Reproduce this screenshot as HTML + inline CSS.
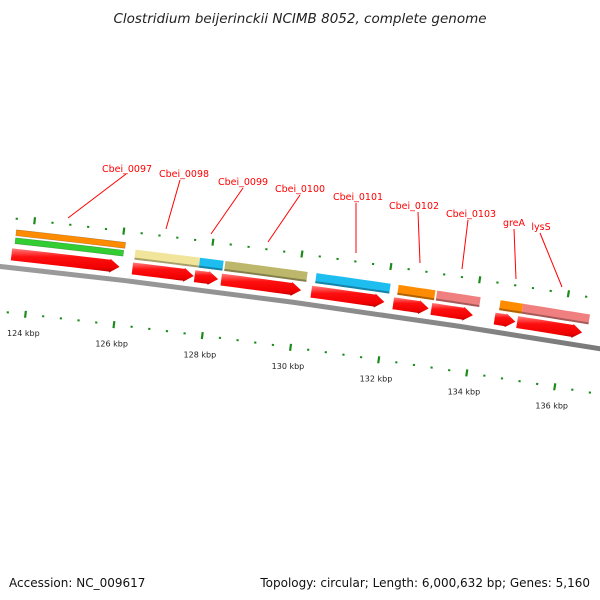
<!DOCTYPE html>
<html><head><meta charset="utf-8"><style>
body{margin:0;background:#fff;}
svg{display:block;font-family:"DejaVu Sans","Liberation Sans",sans-serif;}
</style></head><body>
<svg id="chart" width="600" height="600" viewBox="0 0 600 600">
<defs>
<linearGradient id="gRed" x1="0" y1="0" x2="0" y2="1"><stop offset="0" stop-color="#ff8080"/><stop offset="0.35" stop-color="#ff1010"/><stop offset="0.8" stop-color="#f00000"/><stop offset="1" stop-color="#b00000"/></linearGradient>
<linearGradient id="gBack" x1="0" y1="0" x2="0" y2="1"><stop offset="0" stop-color="#aaaaaa"/><stop offset="0.5" stop-color="#888"/><stop offset="1" stop-color="#555"/></linearGradient>
</defs>
<text x="300" y="23" text-anchor="middle" font-size="13.5" font-style="italic" fill="#222">Clostridium beijerinckii NCIMB 8052, complete genome</text>
<g id="plot"></g>
<text x="9" y="587" font-size="12" fill="#111">Accession: NC_009617</text>
<text x="590" y="587" font-size="12" fill="#111" text-anchor="end">Topology: circular; Length: 6,000,632 bp; Genes: 5,160</text>
</svg>
<script>
const tickLabels = [124,126,128,130,132,134,136];
const cdsStarts = [123.62,126.34,127.74,128.34,130.37,132.22,133.08,134.51,135.02];
const cdsEnds   = [126.05,127.72,128.27,130.14,132.02,133.02,134.02,134.98,136.49];
const geneStarts = [126.36,127.81,128.38,130.43,132.28,133.15,134.58,135.09];
const geneEnds   = [127.81,128.34,130.23,132.10,133.11,134.13,135.09,136.60];
const geneColors = ["#f0e59a","#1ebdf0","#bdb76b","#1ebdf0","#ff8c00","#f08080","#ff8c00","#f08080"];
const otherStarts = [123.67,123.67];
const otherEnds = [126.12,126.10];
const otherColors = ["#ff8c00","#32cd32"];
const labelNames = ["Cbei_0097","Cbei_0098","Cbei_0099","Cbei_0100","Cbei_0101","Cbei_0102","Cbei_0103","greA","lysS"];

const NS="http://www.w3.org/2000/svg";
const plot=document.getElementById('plot');
const CX=-1196, CY=11201, R=11000, A=0.004064, PHI0=0.1364, K0=130.15;
function P(k,r){const f=PHI0+(k-K0)*A;const rr=R+r;return [CX+rr*Math.sin(f), CY-rr*Math.cos(f)];}
function poly(pts){return pts.map(p=>p[0].toFixed(2)+','+p[1].toFixed(2)).join(' ');}
function band(k1,k2,r1,r2){const pts=[];const n=8;for(let i=0;i<=n;i++)pts.push(P(k1+(k2-k1)*i/n,r2));for(let i=n;i>=0;i--)pts.push(P(k1+(k2-k1)*i/n,r1));return pts;}
function mk(tag,attrs){const e=document.createElementNS(NS,tag);for(const a in attrs)e.setAttribute(a,attrs[a]);plot.appendChild(e);return e;}

{const e=mk('polygon',{points:poly(band(115,145,-2.5,2.5)),fill:'url(#gBack)'});

}

function ticks(r,prefix,shift){
 for(let i=0;i<=40;i++){const k=122+i*0.4;const major=Math.abs(k/2-Math.round(k/2))<0.01;
  const len=major?7:2;const a=P(k+shift,r-len/2),b=P(k+shift,r+len/2);
  const e=mk('line',{x1:a[0],y1:a[1],x2:b[0],y2:b[1],stroke:'#1a8c1a','stroke-width':2.2});
  
  }
}
ticks(49,'outer',0.05);
ticks(-45,'inner',0.08);
tickLabels.forEach(k=>{const p=P(k+0.08,-64);const t=mk('text',{x:p[0],y:p[1]+3,'text-anchor':'middle','font-size':8,fill:'#222'});t.textContent=k+' kbp';
 
 });

otherStarts.forEach((s,i)=>{const rc=i==0?35:27;const e=mk('polygon',{points:poly(band(s,otherEnds[i],rc-3,rc+3)),fill:otherColors[i],stroke:'rgba(0,0,0,0.25)','stroke-width':0.6});
 
 });
geneStarts.forEach((s,i)=>{const e=mk('polygon',{points:poly(band(s,geneEnds[i],22,32)),fill:geneColors[i]});
 
 
 const sh=mk('polygon',{points:poly(band(s,geneEnds[i],22,24)),fill:'rgba(0,0,0,0.3)'});
 
 });
cdsStarts.forEach((s,i)=>{const e_=cdsEnds[i];const head=0.22;const hb=Math.max(s,e_-head);
 const body=[];const n=8;for(let j=0;j<=n;j++)body.push(P(s+(hb-s)*j/n,19));
 body.push(P(hb,20));body.push(P(e_,13));body.push(P(hb,6));
 for(let j=n;j>=0;j--)body.push(P(s+(hb-s)*j/n,7));
 const e=mk('polygon',{points:poly(body),fill:'url(#gRed)'});
 
 });

const lab=[[127,172,126,174,68,218],[184,177,180,180,166,229],[243,185,243,188,211,234],[300,192,300,195,268,242],[358,200,356,203,356,253],[414,209,418,212,420,263],[471,217,468,220,462,269],[514,226,514,229,516,279],[541,230,540,233,562,287]];
labelNames.forEach((nm,i)=>{const L=lab[i];
 const ln=mk('line',{x1:L[2],y1:L[3],x2:L[4],y2:L[5],stroke:'#ff0000','stroke-width':1});
 
 
 const t=mk('text',{x:L[0],y:L[1],'text-anchor':'middle','font-size':9.5,fill:'#ff0000'});t.textContent=nm;
 
 });
</script>
</body></html>
